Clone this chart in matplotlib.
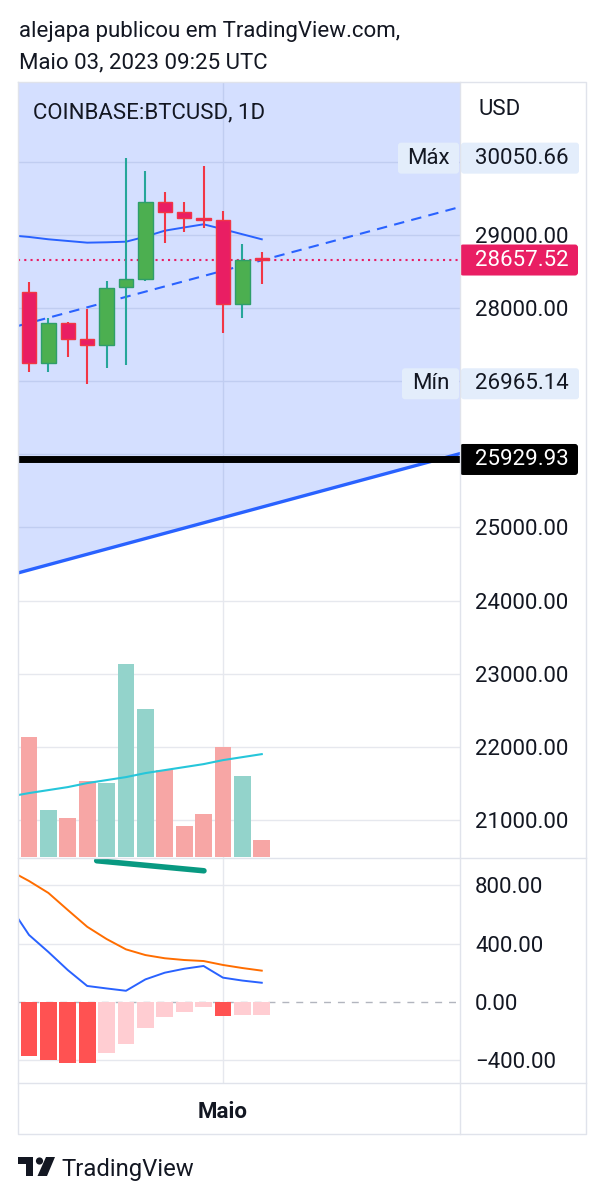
import matplotlib
matplotlib.use('Agg')
import matplotlib.pyplot as plt
from matplotlib.patches import Rectangle, Polygon, Circle, FancyBboxPatch

plt.rcParams['font.family'] = ['Roboto', 'DejaVu Sans']

# daily candles, 21 Apr .. 3 May 2023 (index 0..12)
opens  = [28225, 27245, 27801, 27574, 27496, 28293, 28398, 29455, 29319, 29237, 29209, 28056, 28690]
highs  = [28357, 27865, 27815, 27988, 28375, 30050.66, 29879, 29584, 29447, 29948, 29328, 28877, 28763]
lows   = [27127, 27127, 27332, 26965.14, 27185, 27222, 28371, 28886, 29045, 29092, 27656, 27861, 28330]
closes = [27250, 27801, 27574, 27496, 28279, 28398, 29455, 29319, 29237, 29209, 28056, 28658, 28657.52]

# moving average of price, index -1..12
ma_idx = list(range(-1, 13))
ma_vals = [28996, 28973, 28941, 28918, 28895, 28900, 28908, 28977, 29059, 29103, 29146, 29079, 29010, 28941]

# volume (thousand BTC) and its average
volume = [12.06, 4.73, 3.90, 7.56, 7.40, 19.30, 14.86, 8.73, 3.13, 4.30, 11.06, 8.13, 1.73]
vol_ma = [6.05, 6.4, 6.7, 7.0, 7.4, 7.7, 8.0, 8.4, 8.7, 9.0, 9.3, 9.7, 10.0, 10.3]

# drawings
trend_x = [-0.57, 22.22]
trend_dashed = [27756, 29383]
trend_solid = [24378, 26010]
support = 25929.93
last_price = 28657.52
hi_price, lo_price = 30050.66, 26965.14

# MACD (index -1..12), histogram index 0..12
macd = [660, 460, 343, 219, 110, 93, 77, 155, 201, 228, 247, 167, 147, 132]
signal = [902, 830, 748, 631, 516, 432, 361, 322, 300, 288, 281, 254, 233, 215]
hist = [-368, -398, -418, -418, -352, -290, -176, -101, -67, -36, -94, -91, -91]
hist_strong = [True, True, True, True, False, False, False, False, False, False, True, False, False]
div_x = [3.49, 9.02]
div_y = [969, 900]

price_grid = [21000, 22000, 23000, 24000, 25000, 26000, 27000, 28000, 29000, 30000]
price_ticks = [21000, 22000, 23000, 24000, 25000, 28000, 29000]  # others sit under labels
macd_ticks = [-400, 0, 400, 800]
macd_grid = [-400, 400, 800]

W, H = 605, 1200
TXT = '#131722'
GRID = '#e6e8ee'
BLUE = '#2962ff'
FS = 16


def rect(x0, y0, x1, y1):
    return [x0 / W, 1 - y1 / H, (x1 - x0) / W, (y1 - y0) / H]


fig = plt.figure(figsize=(6.05, 12), dpi=100)
XL = (-0.567, 22.22)

# ---- price pane
ax = fig.add_axes(rect(18, 82, 460, 858))
ax.set_xlim(*XL)
ax.set_ylim(20480, 31092)
for t in price_grid:
    ax.axhline(t, color=GRID, lw=1, zorder=0)
ax.axvline(10, color=GRID, lw=1, zorder=0)

ax.fill_between(trend_x, trend_solid, [31092, 31092], color=BLUE, alpha=0.2, lw=0, zorder=1)
ax.plot(trend_x, trend_solid, color=BLUE, lw=2.4, zorder=3)
ax.axhline(support, color='black', lw=5, zorder=3)
ax.plot(trend_x, trend_dashed, color=BLUE, lw=1.5, ls=(0, (5, 3.5)), zorder=3)
ax.plot(ma_idx, ma_vals, color=BLUE, lw=1.4, zorder=3)
ax.axhline(last_price, color='#e91e63', lw=1.5, ls=(0, (1, 2)), zorder=2)

for i in range(len(opens)):
    up = closes[i] >= opens[i]
    wick = '#26a69a' if up else '#f23645'
    body = '#4caf50' if up else '#e91e63'
    edge = '#2e9e6a' if up else '#f23645'
    ax.vlines(i, lows[i], highs[i], color=wick, lw=1.5, zorder=4)
    lo = min(opens[i], closes[i])
    ax.bar(i, max(abs(closes[i] - opens[i]), 25), bottom=lo, width=0.74,
           color=body, edgecolor=edge, lw=1, zorder=5)

ax.text(0.035, 0.974, 'COINBASE:BTCUSD, 1D', transform=ax.transAxes,
        fontsize=FS, color=TXT, va='top', ha='left', zorder=6)

ax.set_yticks(price_ticks)
ax.set_yticklabels([f'{t:.2f}' for t in price_ticks])
ax.yaxis.tick_right()
ax.tick_params(axis='y', length=0, pad=10.8, labelsize=FS, labelcolor=TXT)
ax.set_xticks([])
for s in ax.spines.values():
    s.set_visible(False)

# ---- volume overlay
axv = fig.add_axes(rect(18, 82, 460, 858))
axv.set_xlim(*XL)
axv.set_ylim(-0.1, 77.6)
vcol = ['#93d3cb' if closes[i] >= opens[i] else '#f7a6a5' for i in range(len(volume))]
axv.bar(range(len(volume)), volume, width=0.86, color=vcol, zorder=2)
axv.plot(ma_idx, vol_ma, color='#26c6da', lw=1.5, zorder=3)
axv.axis('off')
axv.patch.set_visible(False)

# ---- MACD pane
axm = fig.add_axes(rect(18, 858, 460, 1083))
axm.set_xlim(*XL)
axm.set_ylim(-555.6, 987.7)
for t in macd_grid:
    axm.axhline(t, color=GRID, lw=1, zorder=0)
axm.axvline(10, color=GRID, lw=1, zorder=0)
axm.axhline(0, color='#b2b5be', lw=1, ls=(0, (5, 5)), zorder=1)
hcol = ['#ff5252' if s else '#ffcdd2' for s in hist_strong]
axm.bar(range(len(hist)), hist, width=0.86, color=hcol, zorder=2)
axm.plot(ma_idx, signal, color='#ff6d00', lw=1.4, zorder=3)
axm.plot(ma_idx, macd, color=BLUE, lw=1.4, zorder=3)
axm.plot(div_x, div_y, color='#089981', lw=4, solid_capstyle='round', zorder=4, clip_on=False)
axm.set_yticks(macd_ticks)
axm.set_yticklabels([f'{t:.2f}'.replace('-', '\u2212') for t in macd_ticks])
axm.yaxis.tick_right()
axm.tick_params(axis='y', length=0, pad=10.8, labelsize=FS, labelcolor=TXT)
axm.set_xticks([10])
axm.set_xticklabels(['Maio'], fontweight='bold')
axm.tick_params(axis='x', length=0, pad=13, labelsize=FS, labelcolor=TXT)
for s in axm.spines.values():
    s.set_visible(False)

# ---- overlay: borders, labels, header, logo
ov = fig.add_axes([0, 0, 1, 1])
ov.set_xlim(0, W)
ov.set_ylim(H, 0)
ov.axis('off')
ov.patch.set_visible(False)


def ypx(a, v):
    return H - a.transData.transform((0, v))[1]


bc = '#e0e3eb'
ov.plot([18, 586, 586, 18, 18], [82, 82, 1134, 1134, 82], color=bc, lw=1)
ov.plot([460, 460], [82, 1134], color=bc, lw=1)
ov.plot([18, 586], [858, 858], color=bc, lw=1)
ov.plot([18, 586], [1083, 1083], color=bc, lw=1)

ov.text(478, 115, 'USD', fontsize=FS, color=TXT, va='baseline')

for val, name, xl in [(hi_price, 'Máx', 398), (lo_price, 'Mín', 402)]:
    yc = ypx(ax, val)
    ov.add_patch(FancyBboxPatch((xl, yc - 15.5), 459 - xl, 31, boxstyle='round,pad=0,rounding_size=3',
                                fc='#e3edfb', ec='none'))
    ov.add_patch(FancyBboxPatch((461, yc - 15.5), 118, 31, boxstyle='round,pad=0,rounding_size=3',
                                fc='#e3edfb', ec='none'))
    ov.text(450, yc, name, fontsize=FS, color=TXT, va='center', ha='right')
    ov.text(475, yc, f'{val:.2f}', fontsize=FS, color=TXT, va='center', ha='left')

for val, fc in [(last_price, '#e91e63'), (support, '#000000')]:
    yc = ypx(ax, val)
    ov.add_patch(FancyBboxPatch((460, yc - 15.5), 118, 31, boxstyle='round,pad=0,rounding_size=3',
                                fc=fc, ec='none'))
    ov.text(475, yc, f'{val:.2f}', fontsize=FS, color='white', va='center', ha='left')

ov.text(19, 37, 'alejapa publicou em TradingView.com,', fontsize=FS, color=TXT, va='baseline')
ov.text(19, 68, 'Maio 03, 2023 09:25 UTC', fontsize=FS, color=TXT, va='baseline')

# TradingView logo
lc = '#131722'
ov.add_patch(Rectangle((18, 1157), 15, 7, fc=lc, ec='none'))
ov.add_patch(Rectangle((26, 1157), 7, 19, fc=lc, ec='none'))
ov.add_patch(Circle((39.5, 1161), 3.6, fc=lc, ec='none'))
ov.add_patch(Polygon([(46, 1157), (55, 1157), (47, 1176), (37.5, 1176)], closed=True, fc=lc, ec='none'))
ov.text(61, 1176, 'TradingView', fontsize=17.2, color=lc, va='baseline')

fig.savefig('out.png', dpi=100)
